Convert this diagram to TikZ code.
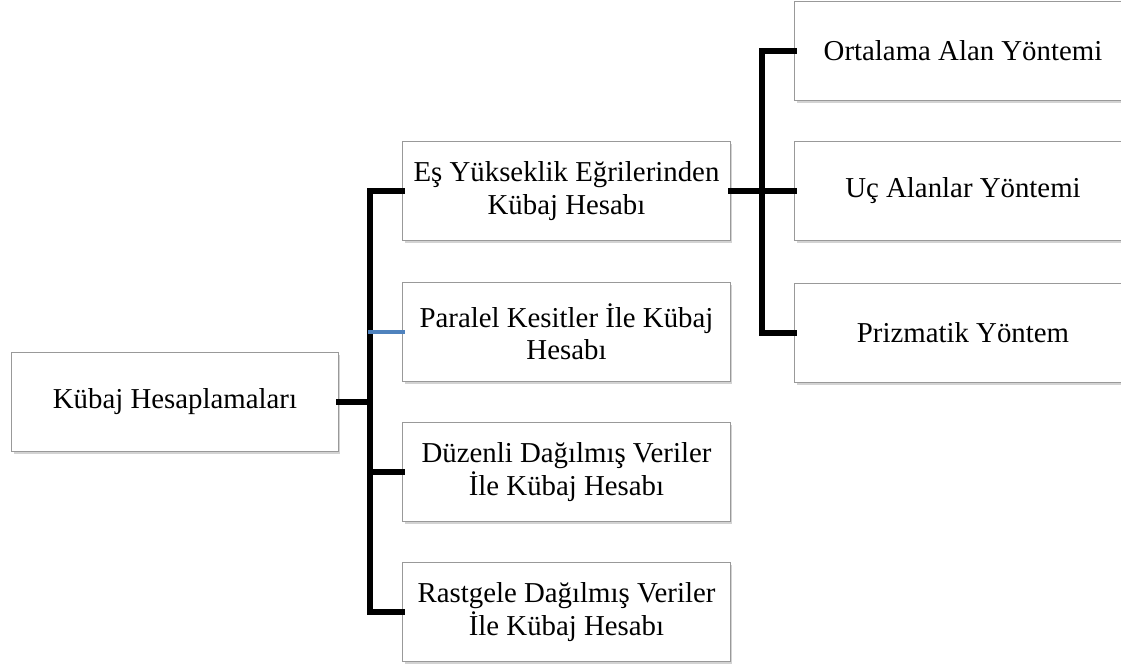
\documentclass[tikz,border=0pt]{standalone}
\usepackage{fontspec}
\setmainfont{Liberation Serif}
\usepackage{tikz}
\usetikzlibrary{shadows}
\definecolor{bdgray}{rgb}{0.6,0.6,0.6}
\definecolor{lnblue}{rgb}{0.31,0.51,0.74}
\begin{document}
\begin{tikzpicture}[line cap=rect,line join=miter,x=0.025cm,y=-0.025cm,
  box/.style={draw=bdgray,line width=0.7pt,fill=white,minimum height=2.475cm,align=center,
    font=\fontsize{20.5}{23}\selectfont,drop shadow={opacity=0.35,shadow xshift=1.5pt,shadow yshift=-2pt}},
  conn/.style={line width=4pt,color=black}]
      \useasboundingbox (0,0) rectangle (1121,668);
      \clip (0,0) rectangle (1121,668);
      \node[box,minimum width=8.15cm] (kh) at (175,402) {Kübaj Hesaplamaları};
      \node[box,minimum width=8.18cm] (eyk) at (566.5,191) {Eş Yükseklik Eğrilerinden\\Kübaj Hesabı};
      \node[box,minimum width=8.18cm] (pkk) at (566.5,332) {Paralel Kesitler İle Kübaj\\Hesabı};
      \node[box,minimum width=8.18cm] (ddv) at (566.5,472) {Düzenli Dağılmış Veriler\\İle Kübaj Hesabı};
      \node[box,minimum width=8.18cm] (rdv) at (566.5,612) {Rastgele Dağılmış Veriler\\İle Kübaj Hesabı};
      \node[box,minimum width=8.4cm] (oay) at (963,51) {Ortalama Alan Yöntemi};
      \node[box,minimum width=8.4cm] (uay) at (963,191) {Uç Alanlar Yöntemi};
      \node[box,minimum width=8.4cm] (pry) at (963,333) {Prizmatik Yöntem};
      \coordinate (j1) at (370,402);
      \coordinate (j2) at (762,191);
      \draw[conn] (kh.east) -- (j1);
      \draw[conn] (eyk.west) -| (j1) |- (rdv.west);
      \draw[conn] (j1 |- ddv.west) -- (ddv.west);
      \draw[line width=3.2pt,color=lnblue] (j1 |- pkk.west) -- (pkk.west);
      \draw[conn] (eyk.east) -- (uay.west);
      \draw[conn] (oay.west) -| (j2) |- (pry.west);
\end{tikzpicture}
\end{document}
